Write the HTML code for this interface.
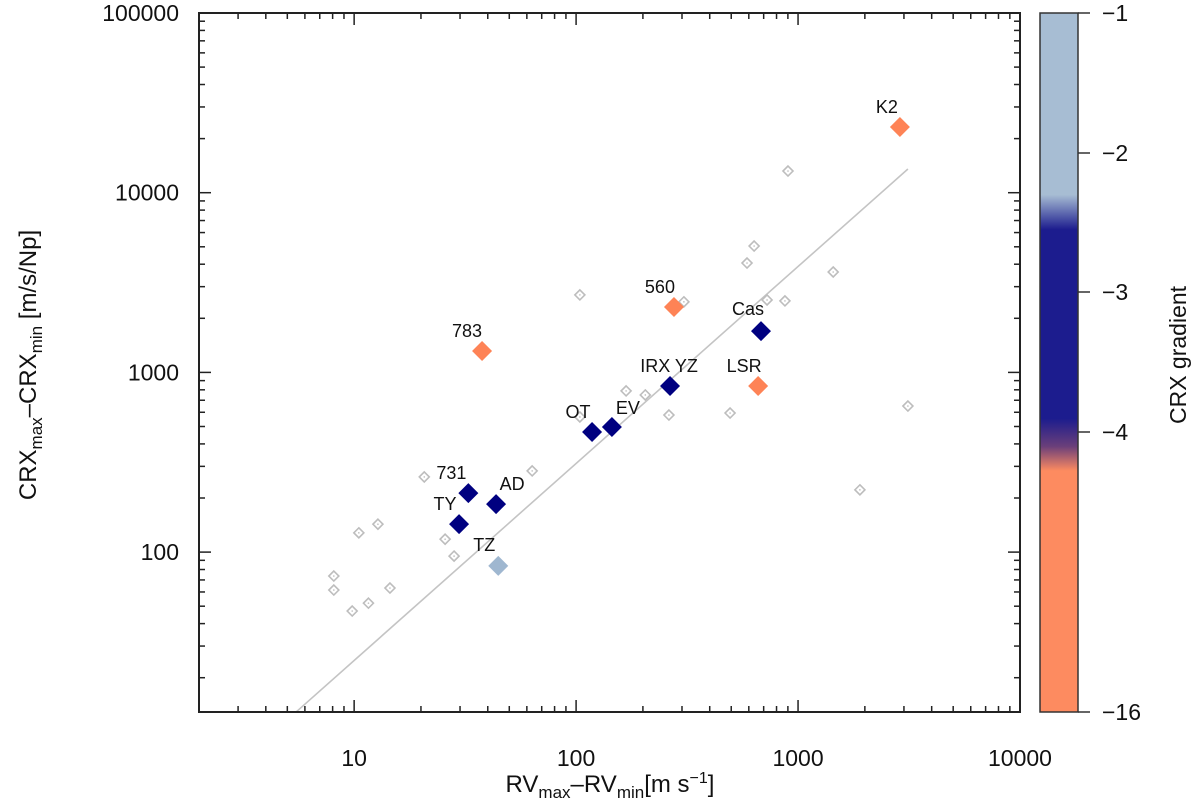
<!DOCTYPE html>
<html><head><meta charset="utf-8"><style>
html,body{margin:0;padding:0;background:#fff;}
svg{display:block;font-family:"Liberation Sans",sans-serif;}
</style></head><body>
<svg id="chart" width="1200" height="810" viewBox="0 0 1200 810" xmlns="http://www.w3.org/2000/svg">
<defs>
<linearGradient id="cbg" x1="0" y1="0" x2="0" y2="1">
<stop offset="0" stop-color="#a7bdd3"/><stop offset="0.26" stop-color="#a7bdd3"/>
<stop offset="0.31" stop-color="#1c1c8e"/><stop offset="0.58" stop-color="#1c1c8e"/>
<stop offset="0.62" stop-color="#6a3f7a"/><stop offset="0.655" stop-color="#fd8b60"/>
<stop offset="1" stop-color="#fd8b60"/></linearGradient>
</defs>
<g id="grid"></g>
<rect x="199" y="13" width="821" height="699" fill="none" stroke="#222" stroke-width="2"/>
<rect x="1040" y="13" width="38" height="699" fill="url(#cbg)" stroke="#333" stroke-width="1.5"/>
<g font-size="23" fill="#111">
<line x1="1078" y1="13" x2="1090" y2="13" stroke="#333" stroke-width="1.5"/><text x="1102" y="21">−1</text>
<line x1="1078" y1="153" x2="1090" y2="153" stroke="#333" stroke-width="1.5"/><text x="1102" y="161">−2</text>
<line x1="1078" y1="292" x2="1090" y2="292" stroke="#333" stroke-width="1.5"/><text x="1102" y="300">−3</text>
<line x1="1078" y1="432" x2="1090" y2="432" stroke="#333" stroke-width="1.5"/><text x="1102" y="440">−4</text>
<line x1="1078" y1="712" x2="1090" y2="712" stroke="#333" stroke-width="1.5"/><text x="1102" y="720">−16</text>
</g>
<text font-size="23" fill="#111" text-anchor="middle" transform="translate(1186,355) rotate(-90)">CRX gradient</text>
<text font-size="24" fill="#111" text-anchor="middle" transform="translate(36,365) rotate(-90)">CRX<tspan font-size="17" dy="6">max</tspan><tspan dy="-6">–CRX</tspan><tspan font-size="17" dy="6">min</tspan><tspan dy="-6"> [m/s/Np]</tspan></text>
<text font-size="24" fill="#111" text-anchor="middle" x="610" y="792">RV<tspan font-size="17" dy="6">max</tspan><tspan dy="-6">–RV</tspan><tspan font-size="17" dy="6">min</tspan><tspan dy="-6">[m s</tspan><tspan font-size="16" dy="-9">−1</tspan><tspan dy="9">]</tspan></text>
</svg>
<script>
const xTicks=[10,100,1000,10000];
const xTickLabels=["10","100","1000","10000"];
const yTicks=[100,1000,10000,100000];
const yTickLabels=["100","1000","10000","100000"];
const grayX=[104,901,634,589,1440,306,725,873,168,205,262,494,3126,1900,104,63.4,20.7,12.8,10.5,25.7,28.2,8.1,8.1,14.5,9.8,11.6];
const grayY=[2700,13200,5050,4060,3620,2470,2530,2500,789,749,579,594,650,222,565,283,262,143,128,118,95,73.6,61.5,63.1,47,52];
const starNames=["K2","560","783","Cas","LSR","IRX YZ","OT","EV","731","AD","TY","TZ"];
const starX=[2877,276,37.7,681,661,265,118,145,32.7,43.6,29.7,44.6];
const starY=[23200,2310,1315,1698,840,840,466,497,213,185,143,83.8];
const starGroup=["orange","orange","orange","navy","orange","navy","navy","navy","navy","navy","navy","light"];
const fitX=[5.48,3126];
const fitY=[12.9,13550];

const L=199,R=1020,T=13,B=712;
const xmin=2,xmax=10000,ymin=Math.pow(10,5-(B-T)/179.7),ymax=100000;
function sx(v){return L+(Math.log10(v)-Math.log10(xmin))/(Math.log10(xmax)-Math.log10(xmin))*(R-L);}
function sy(v){return B-(Math.log10(v)-Math.log10(ymin))/(Math.log10(ymax)-Math.log10(ymin))*(B-T);}
const NS="http://www.w3.org/2000/svg";
const g=document.getElementById('grid');
function mk(tag,attrs,parent){const e=document.createElementNS(NS,tag);for(const k in attrs)e.setAttribute(k,attrs[k]);(parent||g).appendChild(e);return e;}
const colors={orange:"#fe8356",navy:"#000080",light:"#9fb7d0"};
const labelOff={"K2":[-13,-14],"560":[-14,-14],"783":[-15,-14],"Cas":[-13,-16],"LSR":[-14,-14],"IRX YZ":[-1,-14],"OT":[-14,-14],"EV":[16,-13],"731":[-17,-14],"AD":[16,-14],"TY":[-14,-14],"TZ":[-14,-15]};

const tk=mk('g',{});


for(let d=0;d<=4;d++){for(let m=1;m<10;m++){const v=Math.pow(10,d)*m;if(v<xmin||v>xmax)continue;const x=sx(v);const len=m===1?12:6;
mk('line',{x1:x,y1:B,x2:x,y2:B-len,stroke:'#222','stroke-width':1.5},tk);mk('line',{x1:x,y1:T,x2:x,y2:T+len,stroke:'#222','stroke-width':1.5},tk);}}
for(let d=1;d<=5;d++){for(let m=1;m<10;m++){const v=Math.pow(10,d)*m;if(v<ymin||v>ymax)continue;const y=sy(v);const len=m===1?12:6;
mk('line',{x1:L,y1:y,x2:L+len,y2:y,stroke:'#222','stroke-width':1.5},tk);mk('line',{x1:R,y1:y,x2:R-len,y2:y,stroke:'#222','stroke-width':1.5},tk);}}
xTicks.forEach((v,i)=>{const t=mk('text',{x:sx(v),y:766,'text-anchor':'middle','font-size':23,fill:'#111'});t.textContent=xTickLabels[i];

});
yTicks.forEach((v,i)=>{const t=mk('text',{x:179,y:sy(v)+8,'text-anchor':'end','font-size':23,fill:'#111'});t.textContent=yTickLabels[i];

});

const fl=mk('line',{x1:sx(fitX[0]),y1:sy(fitY[0]),x2:sx(fitX[1]),y2:sy(fitY[1]),stroke:'#c4c4c4','stroke-width':1.6});



grayX.forEach((xv,i)=>{const x=sx(xv),y=sy(grayY[i]),r=5;
const p=mk('polygon',{points:`${x},${y-r} ${x+r},${y} ${x},${y+r} ${x-r},${y}`,fill:'#fff',stroke:'#bdbdbd','stroke-width':1.6});


mk('circle',{cx:x,cy:y,r:0.8,fill:'#bbb'});});

starNames.forEach((n,i)=>{const x=sx(starX[i]),y=sy(starY[i]),r=10;
const p=mk('polygon',{points:`${x},${y-r} ${x+r},${y} ${x},${y+r} ${x-r},${y}`,fill:colors[starGroup[i]]});


const o=labelOff[n];
const t=mk('text',{x:x+o[0],y:y+o[1],'text-anchor':'middle','font-size':18,fill:'#111'});t.textContent=n;

});
</script>
</body></html>
